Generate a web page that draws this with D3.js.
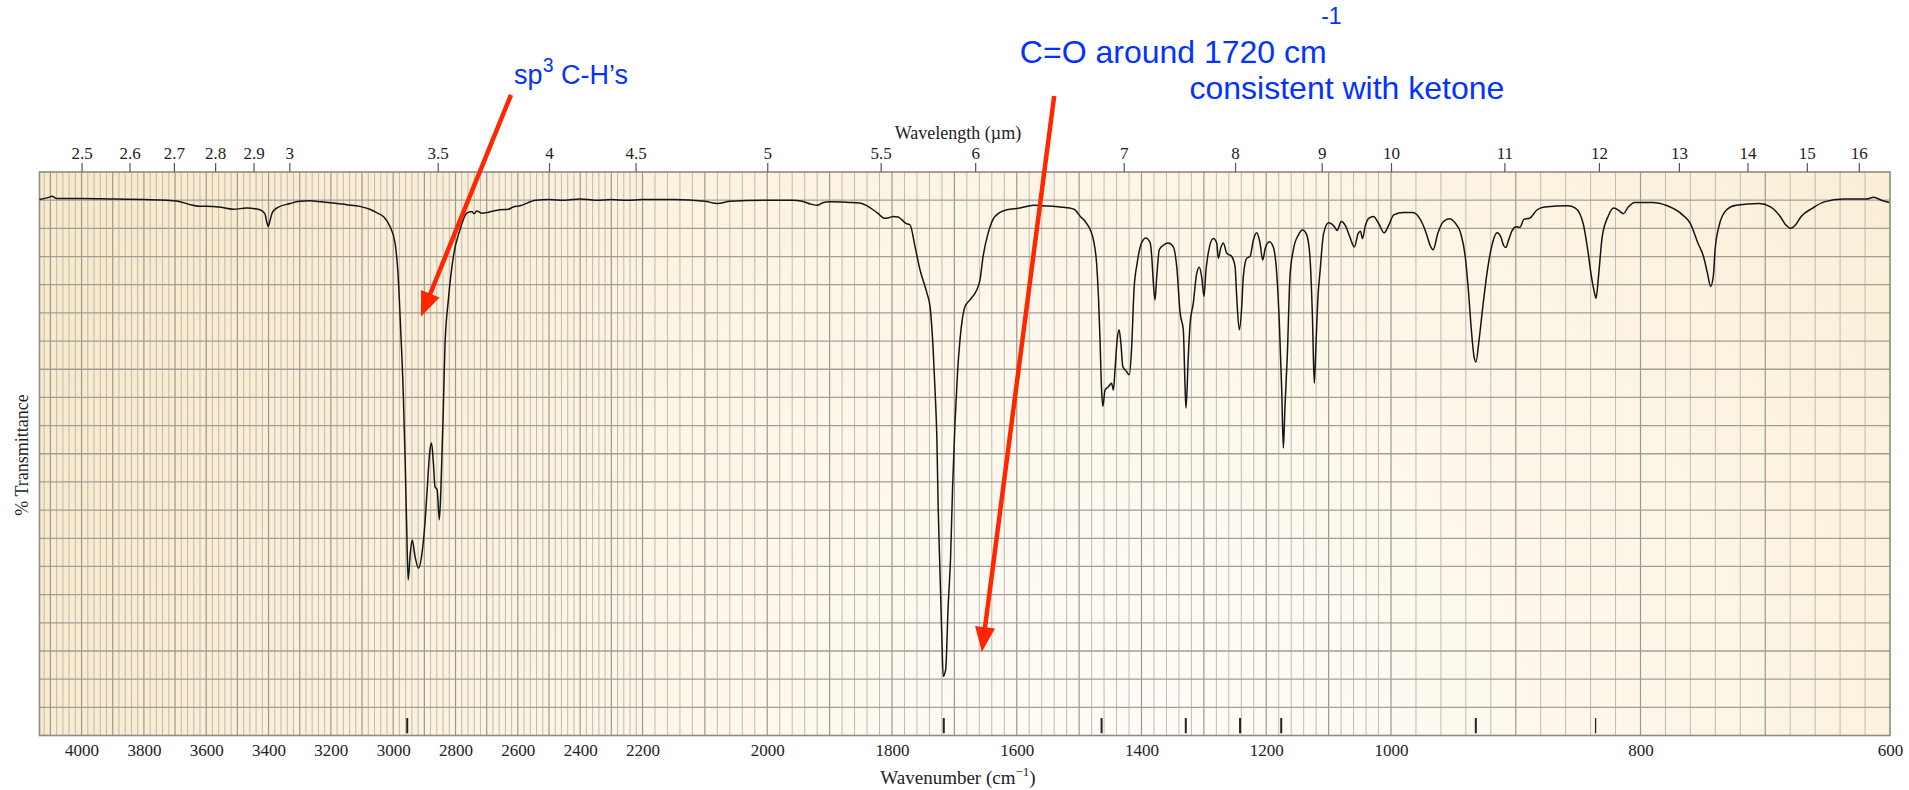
<!DOCTYPE html>
<html><head><meta charset="utf-8">
<script src="https://cdn.jsdelivr.net/npm/d3@7"></script>
<style>
html,body{margin:0;padding:0;background:#fff;}
svg{display:block;}
</style></head>
<body>
<svg id="chart" width="1909" height="790"></svg>
<script>
// ---------- data (wavenumber cm-1, % transmittance) ----------
const spectrum = [
[4135,95.1],[4105,95.5],[4095,95.7],[4080,95.3],[4000,95.3],[3900,95.2],[3800,95.1],[3727,95.0],[3690,94.8],[3650,94.2],
[3620,93.9],[3599,93.9],[3560,93.8],[3513,93.4],[3470,93.6],[3428,93.3],[3412,92.6],[3405,91.0],[3401,90.3],[3396,91.2],
[3388,92.8],[3374,93.6],[3331,94.4],[3300,94.8],[3267,94.9],[3230,94.7],[3192,94.5],[3150,94.2],[3107,93.9],[3075,93.4],
[3053,92.8],[3030,92.0],[3010,90.3],[2994,87.4],[2984,81.4],[2976,72.0],[2968,61.3],[2962,49.5],[2957,37.7],[2952,27.6],
[2946,31.8],[2939,34.7],[2930,31.8],[2919,29.7],[2909,31.8],[2898,37.7],[2891,43.6],[2882,50.7],[2877,51.9],[2871,48.3],
[2866,44.2],[2859,43.6],[2852,38.3],[2847,43.6],[2839,58.4],[2834,69.0],[2823,77.3],[2807,85.0],[2786,89.7],[2764,92.7],
[2748,93.0],[2740,92.6],[2732,93.1],[2715,92.7],[2700,92.8],[2686,93.0],[2657,93.3],[2630,93.4],[2615,93.8],[2593,94.0],
[2543,95.0],[2500,95.1],[2450,95.0],[2400,95.2],[2350,95.0],[2300,95.1],[2250,95.0],[2200,95.1],[2150,95.1],[2100,94.8],
[2080,94.4],[2060,94.8],[2000,95.0],[1960,95.0],[1944,94.8],[1930,94.3],[1920,94.1],[1910,94.6],[1900,94.7],[1870,94.6],
[1852,94.5],[1840,94.0],[1823,92.7],[1812,91.8],[1805,91.9],[1798,92.1],[1790,92.0],[1784,91.5],[1778,90.9],[1771,90.6],
[1763,86.7],[1755,82.6],[1744,78.5],[1739,76.1],[1734,68.4],[1731,61.3],[1728,52.5],[1726,40.6],[1723,28.8],[1720,17.0],
[1718,10.5],[1714,11.7],[1710,22.9],[1706,31.8],[1703,43.6],[1699,55.4],[1695,64.3],[1691,70.2],[1683,76.1],[1675,77.3],
[1664,79.1],[1659,80.8],[1654,85.0],[1646,89.1],[1635,92.1],[1616,93.3],[1595,93.6],[1573,94.1],[1558,94.0],[1530,93.8],
[1508,93.4],[1498,92.1],[1488,90.9],[1477,87.9],[1472,83.8],[1469,77.9],[1466.5,70.2],[1464,61.3],[1462,58.4],[1458.5,61.3],
[1453,61.9],[1448,62.5],[1445,61.3],[1442.5,64.9],[1439,70.2],[1436,72.0],[1433,69.6],[1430,65.5],[1424,64.6],[1419.5,64.0],
[1416,68.4],[1412,79.1],[1407,83.8],[1400,87.4],[1393,88.3],[1386,87.4],[1383.6,85.0],[1381,80.3],[1378.3,77.3],[1375.6,81.4],
[1371.4,86.2],[1365,87.0],[1357,87.4],[1349,86.7],[1343.5,83.2],[1338,74.9],[1333,72.0],[1330,61.3],[1328.6,58.1],[1325,67.2],
[1322,73.2],[1317,76.7],[1311.5,82.0],[1307.3,83.1],[1303.5,81.4],[1299.8,77.9],[1296.6,82.6],[1293,85.6],[1285,88.2],[1279.4,87.4],
[1276.8,84.7],[1273,86.5],[1268.8,87.4],[1263.4,85.6],[1255.4,85.0],[1250,83.2],[1247.4,77.9],[1243.2,72.0],[1239.3,76.1],[1236.8,81.4],
[1231.3,84.7],[1226,85.0],[1220.7,87.9],[1215.3,89.2],[1210,87.4],[1205.7,84.4],[1201.5,86.5],[1195,87.6],[1188.7,86.7],[1183.2,82.0],
[1179,73.2],[1175.2,61.3],[1172.6,51.0],[1170,58.4],[1166.3,67.2],[1162,81.4],[1156.6,86.2],[1148.6,88.8],[1141.6,89.7],[1135,88.8],
[1130,85.0],[1126,74.5],[1123,62.5],[1120,70.2],[1117,78.0],[1114,82.0],[1108,89.1],[1100,91.0],[1090.7,90.3],[1086.4,89.6],
[1079.7,91.2],[1072.3,90.3],[1066,88.5],[1058.8,86.7],[1052.6,89.1],[1048.9,89.5],[1045.8,88.2],[1041.5,90.3],[1035.4,91.8],[1028,92.1],
[1020,90.9],[1010.9,89.2],[1003.5,90.6],[997.8,92.4],[990,92.8],[982.5,92.8],[976.3,91.5],[971.7,89.1],[968.7,87.0],[966.2,86.2],
[962.5,89.1],[957.9,91.2],[953.3,91.7],[948.7,91.0],[944.1,89.1],[940.5,85.0],[938,79.1],[935.6,72.0],[933.4,67.2],[931.9,66.3],
[929.4,70.2],[926.4,76.1],[922.7,82.6],[918,87.9],[915,89.2],[912,88.5],[909.8,87.0],[908,86.6],[905.8,87.9],[902.7,89.7],
[899.7,90.3],[896.6,90.2],[893.5,91.6],[888.9,91.8],[882.8,93.3],[876.7,93.8],[858.3,94.0],[852.2,93.6],[846,90.9],[842.3,86.2],
[839.3,81.4],[836.8,78.5],[835.6,77.6],[833.7,81.4],[830.7,88.5],[826,92.1],[821.5,93.6],[816.9,93.1],[813.8,92.6],[809.8,93.8],
[804.6,94.6],[790.8,94.6],[778.5,94.0],[766.3,92.4],[760.1,90.9],[754,87.4],[749.5,85.0],[746.3,82.0],[743.9,79.7],[741.7,81.4],
[740.2,86.2],[737.2,90.3],[731,93.3],[723.3,94.1],[705,94.4],[695.8,93.8],[688,92.1],[683.5,90.6],[679.8,90.0],[675.8,90.6],
[671.2,92.1],[662,93.6],[652.8,94.7],[637.5,95.2],[619,95.2],[613,95.5],[606.8,95.0],[600.6,94.6]
];
const wavelengthTicks = [2.5,2.6,2.7,2.8,2.9,3,3.5,4,4.5,5,5.5,6,7,8,9,10,11,12,13,14,15,16];
const wavenumberTicks = [4000,3800,3600,3400,3200,3000,2800,2600,2400,2200,2000,1800,1600,1400,1200,1000,800,600];
const peakMarkers = [2955,1717,1464,1329,1242,1176,932,836];
const transmittanceGrid = [0,5,10,15,20,25,30,35,40,45,50,55,60,65,70,75,80,85,90,95,100];
// annotation anchors in data units (wavenumber, % transmittance; >100 lies above the frame)
const arrows = [
  {from:[2622,113.7], to:[2911,74.3]},
  {from:[1540,113.5], to:[1656,14.8]}
];
const labels = [
  {text:"sp", sup:"3", rest:" C-H\u2019s", at:[2612,115.6], size:27},
  {text:"C=O around 1720 cm", at:[1595,119.3], size:32},
  {text:"-1", at:[1112,126.2], size:23},
  {text:"consistent with ketone", at:[1323,113.0], size:32}
];

// ---------- scales ----------
const svg = d3.select("#chart");
const x = d3.scaleLinear().domain([4135,2200,1000,600]).range([39.5,642.5,1391,1890]);
const y = d3.scaleLinear().domain([0,100]).range([735.5,172]);
const [x0,x1] = [x(4135), x(600)], [yb,yt] = [y(0), y(100)];

// background
const defs = svg.append("defs");
const rg = defs.append("radialGradient").attr("id","bg").attr("gradientUnits","userSpaceOnUse")
  .attr("cx",1150).attr("cy",760).attr("r",1150);
rg.append("stop").attr("offset","0").attr("stop-color","#fffdf9");
rg.append("stop").attr("offset","0.45").attr("stop-color","#fdf6e8");
rg.append("stop").attr("offset","1").attr("stop-color","#f8eacd");
svg.append("rect").attr("x",x0).attr("y",yt).attr("width",x1-x0).attr("height",yb-yt).attr("fill","url(#bg)");

// grid
const vGrid = d3.range(620, 4135, 20);
svg.append("g").selectAll("line").data(vGrid).join("line")
  .attr("x1",d=>x(d)).attr("x2",d=>x(d)).attr("y1",yt).attr("y2",yb)
  .attr("stroke",d=>d%100===0?"#9d988f":"#b9b4aa").attr("stroke-width",d=>d%100===0?1.2:0.9);
svg.append("g").selectAll("line").data(transmittanceGrid.slice(1,-1)).join("line")
  .attr("x1",x0).attr("x2",x1).attr("y1",d=>y(d)).attr("y2",d=>y(d))
  .attr("stroke","#a39e95").attr("stroke-width",1.3);
// frame
svg.append("rect").attr("x",x0).attr("y",yt).attr("width",x1-x0).attr("height",yb-yt)
  .attr("fill","none").attr("stroke","#8f8a83").attr("stroke-width",1.6);

// peak markers
svg.append("g").selectAll("line").data(peakMarkers).join("line")
  .attr("x1",d=>x(d)).attr("x2",d=>x(d)).attr("y1",y(3.1)).attr("y2",y(0.4))
  .attr("stroke","#222").attr("stroke-width",(d,i)=>i===peakMarkers.length-1?1.3:2);

// spectrum
const line = d3.line().x(d=>x(d[0])).y(d=>y(d[1])).curve(d3.curveMonotoneX);
svg.append("path").datum(spectrum).attr("d",line).attr("fill","none")
  .attr("stroke","#151515").attr("stroke-width",1.5).attr("stroke-linejoin","round");

// axes
const serif = "'Liberation Serif','Times New Roman',serif";
const topAxis = svg.append("g").attr("transform",`translate(0,${yt})`)
  .call(d3.axisTop(x).tickValues(wavelengthTicks.map(w=>1e4/w)).tickFormat((d,i)=>wavelengthTicks[i]).tickSize(9).tickPadding(4));
topAxis.select(".domain").remove();
topAxis.selectAll("line").attr("stroke","#555").attr("stroke-width",1.2);
topAxis.selectAll("text").attr("font-family",serif).attr("font-size",17).attr("fill","#222");

const botAxis = svg.append("g").attr("transform",`translate(0,${yb})`)
  .call(d3.axisBottom(x).tickValues(wavenumberTicks).tickFormat(d3.format("d")).tickSize(0).tickPadding(8));
botAxis.select(".domain").remove();
botAxis.selectAll("text").attr("font-family",serif).attr("font-size",17).attr("fill","#222");

svg.append("text").attr("x",958).attr("y",139).attr("text-anchor","middle")
  .attr("font-family",serif).attr("font-size",18).attr("fill","#222").text("Wavelength (\u00b5m)");
const wn = svg.append("text").attr("x",958).attr("y",784).attr("text-anchor","middle")
  .attr("font-family",serif).attr("font-size",19).attr("fill","#222");
wn.append("tspan").text("Wavenumber (cm");
wn.append("tspan").attr("dy",-8).attr("font-size",13).text("\u22121");
wn.append("tspan").attr("dy",8).text(")");
svg.append("text").attr("transform","translate(28,455) rotate(-90)").attr("text-anchor","middle")
  .attr("font-family",serif).attr("font-size",18).attr("fill","#222").text("% Transmittance");

// annotations
const sans = "'Liberation Sans',Arial,Helvetica,sans-serif";
labels.forEach(l=>{
  const t = svg.append("text").attr("x",x(l.at[0])).attr("y",y(l.at[1]))
    .attr("font-family",sans).attr("font-size",l.size).attr("fill","#0433ff");
  t.append("tspan").text(l.text);
  if(l.sup){
    t.append("tspan").attr("dy",-12).attr("font-size",l.size*0.72).text(l.sup);
    t.append("tspan").attr("dy",12).text(l.rest);
  }
});
arrows.forEach(a=>{
  const sx=x(a.from[0]), sy=y(a.from[1]), ex=x(a.to[0]), ey=y(a.to[1]);
  const dx=ex-sx, dy=ey-sy, L=Math.hypot(dx,dy), ux=dx/L, uy=dy/L;
  const hl=25, hw=10;
  const bx=ex-ux*hl, by=ey-uy*hl;
  svg.append("line").attr("x1",sx).attr("y1",sy).attr("x2",bx+ux*2).attr("y2",by+uy*2)
    .attr("stroke","#ff2600").attr("stroke-width",4.5);
  svg.append("polygon").attr("points",[[ex,ey],[bx-uy*hw,by+ux*hw],[bx+uy*hw,by-ux*hw]].map(p=>p.join(",")).join(" "))
    .attr("fill","#ff2600");
});
</script>
</body></html>
